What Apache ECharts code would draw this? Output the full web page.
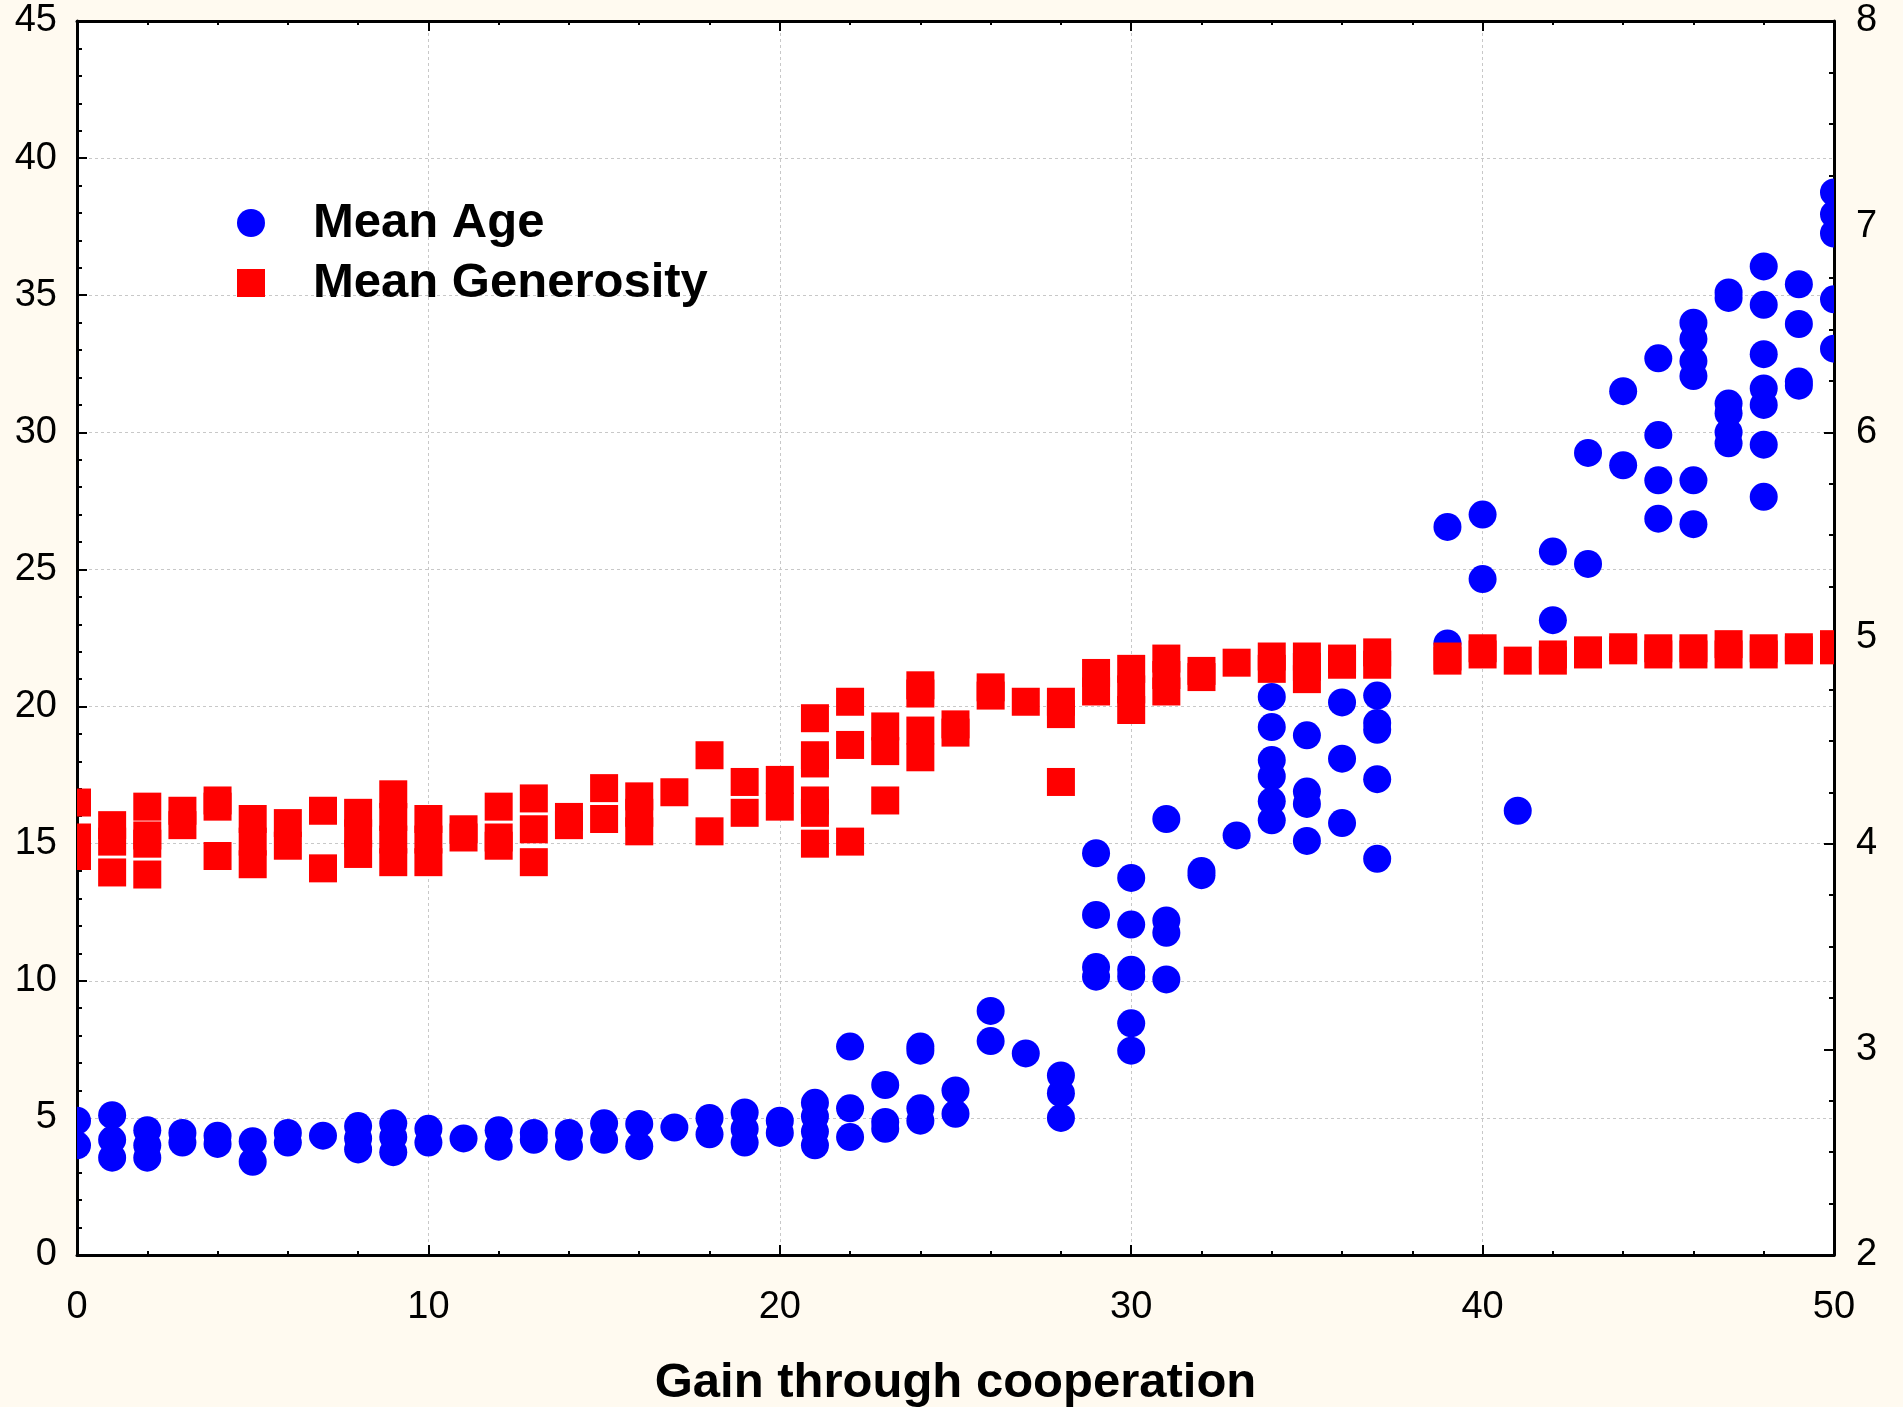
<!DOCTYPE html>
<html>
<head>
<meta charset="utf-8">
<title>Gain through cooperation</title>
<script src="https://cdn.jsdelivr.net/npm/echarts@6.0.0/dist/echarts.min.js"></script>
<style>
    html, body { margin: 0; padding: 0; background: #fffaf0; }
    #chart { width: 1903px; height: 1407px; }
</style>
</head>
<body>
<div id="chart"></div>
<script>
// values grouped by gain through cooperation (index = gain 0..50)
const gainTicks = [0, 10, 20, 30, 40, 50];

// Mean Age (left axis)
const meanAge = [
    [4.9, 4.0], [5.1, 4.2, 3.55], [4.55, 4.0, 3.55], [4.45, 4.1], [4.35, 4.05],
    [4.15, 3.4], [4.45, 4.1], [4.35], [4.7, 4.25, 3.85], [4.8, 4.3, 3.75],
    [4.6, 4.1], [4.25], [4.55, 3.95], [4.45, 4.2], [4.45, 3.95],
    [4.8, 4.2], [4.78, 3.97], [4.65], [5.0, 4.4], [5.2, 4.6, 4.1],
    [4.9, 4.45], [5.55, 5.05, 4.5, 4.0], [7.6, 5.35, 4.3], [6.2, 4.85, 4.6], [7.6, 7.45, 5.35, 4.9],
    [6.0, 5.15], [8.9, 7.8], [7.35], [6.55, 5.9, 5.0], [14.65, 12.4, 10.5, 10.15],
    [13.75, 12.05, 10.4, 10.15, 8.45, 7.45], [15.9, 12.2, 11.75, 10.05], [14.0, 13.85], [15.3],
    [20.35, 19.25, 18.05, 17.45, 16.55, 15.85],
    [18.95, 16.9, 16.45, 15.1], [20.15, 18.1, 15.75], [20.4, 19.4, 19.15, 17.35, 14.45], [], [26.55, 22.3],
    [27.0, 24.65], [16.2], [25.65, 23.15], [29.25, 25.2], [31.5, 28.8],
    [32.7, 29.9, 28.25, 26.85], [34.0, 33.4, 32.6, 32.05, 28.25, 26.65],
    [35.1, 34.9, 31.05, 30.7, 30.0, 29.6], [36.05, 34.65, 32.85, 31.6, 31.0, 29.55, 27.65],
    [35.4, 33.95, 31.85, 31.7],
    [38.75, 37.95, 37.25, 34.85, 33.05]
];

// Mean Generosity (right axis)
const meanGenerosity = [
    [4.2, 4.03, 3.94], [4.09, 4.01, 3.86], [4.18, 4.04, 4.0, 3.85], [4.16, 4.09], [4.21, 4.18, 3.94],
    [4.12, 4.01, 3.9], [4.1, 3.99], [4.16, 3.88], [4.15, 4.05, 3.95], [4.24, 4.13, 4.02, 3.91],
    [4.12, 4.02, 3.91], [4.07, 4.03], [4.18, 4.03, 3.99], [4.22, 4.07, 3.91], [4.13, 4.09],
    [4.27, 4.12], [4.23, 4.15, 4.06], [4.25], [4.43, 4.06], [4.3, 4.15],
    [4.31, 4.18], [4.61, 4.43, 4.39, 4.21, 4.15, 4.0], [4.69, 4.48, 4.01], [4.57, 4.45, 4.21], [4.77, 4.73, 4.55, 4.42],
    [4.58, 4.54], [4.76, 4.72], [4.69], [4.69, 4.63, 4.3], [4.83, 4.74],
    [4.85, 4.75, 4.65], [4.9, 4.82, 4.74], [4.84, 4.81], [4.88], [4.91, 4.85],
    [4.91, 4.86, 4.8], [4.9, 4.87], [4.93, 4.87], [], [4.91, 4.89],
    [4.95, 4.92], [4.89], [4.92, 4.89], [4.94, 4.92], [4.955, 4.94],
    [4.95, 4.92], [4.95, 4.92], [4.97, 4.92], [4.95, 4.92], [4.955, 4.94],
    [4.97, 4.94]
];

const leftTicks = [0, 5, 10, 15, 20, 25, 30, 35, 40, 45];
const rightTicks = [2, 3, 4, 5, 6, 7, 8];

const toPoints = values => values.flatMap((ys, gain) => ys.map(y => [gain, y]));

const FONT = "'Liberation Sans', Arial, sans-serif";
const MARK = 28;

const tickStyle = { color: "#000", width: 2 };

const axisBase = {
    axisLine: { show: true, onZero: false, lineStyle: { color: "#000", width: 3 } },
    axisTick: { show: true, inside: true, length: 10, lineStyle: tickStyle },
    axisLabel: { color: "#000", fontSize: 38, fontFamily: FONT },
};

// custom series so the marks get clipped at the plot frame like the original
const renderCircle = (params, api) => {
    const p = api.coord([api.value(0), api.value(1)]);
    return {
        type: "circle",
        shape: { cx: p[0], cy: p[1], r: MARK / 2 },
        style: { fill: "#0000ff" }
    };
};

const renderSquare = (params, api) => {
    const p = api.coord([api.value(0), api.value(1)]);
    return {
        type: "rect",
        shape: { x: p[0] - MARK / 2, y: p[1] - MARK / 2, width: MARK, height: MARK },
        style: { fill: "#ff0000" }
    };
};

const chart = echarts.init(document.getElementById("chart"));

const option = {
    backgroundColor: "#fffaf0",
    animation: false,
    grid: {
        left: 77,
        top: 21,
        width: 1757,
        height: 1234,
        outerBoundsMode: "none",
        containLabel: false,
        show: true,
        backgroundColor: "#ffffff",
        borderWidth: 0
    },
    legend: {
        left: 232,
        top: 193,
        orient: "vertical",
        itemWidth: MARK,
        itemHeight: MARK,
        itemGap: 10,
        selectedMode: false,
        textStyle: {
            color: "#000",
            fontSize: 49,
            fontWeight: "bold",
            fontFamily: FONT,
            lineHeight: 50,
            padding: [0, 0, 0, 43]
        },
        data: [
            { name: "Mean Age", icon: "circle" },
            { name: "Mean Generosity", icon: "rect" }
        ]
    },
    xAxis: [
        {
            ...axisBase,
            type: "value",
            position: "bottom",
            min: gainTicks[0],
            max: gainTicks[gainTicks.length - 1],
            interval: 10,
            minorTick: { show: true, splitNumber: 5, length: 4, lineStyle: tickStyle },
            splitLine: { show: true, lineStyle: { color: "#c8c8c8", width: 1, type: [3, 3] } },
            axisLabel: { ...axisBase.axisLabel, margin: 34 },
            name: "Gain through cooperation",
            nameLocation: "middle",
            nameGap: 104,
            nameTextStyle: { color: "#000", fontSize: 49, fontWeight: "bold", fontFamily: FONT }
        },
        {
            ...axisBase,
            type: "value",
            position: "top",
            min: gainTicks[0],
            max: gainTicks[gainTicks.length - 1],
            interval: 10,
            minorTick: { show: true, splitNumber: 5, length: 4, lineStyle: tickStyle },
            splitLine: { show: false },
            axisLabel: { show: false }
        }
    ],
    yAxis: [
        {
            ...axisBase,
            type: "value",
            position: "left",
            min: leftTicks[0],
            max: leftTicks[leftTicks.length - 1],
            interval: 5,
            minorTick: { show: true, splitNumber: 5, length: 5, lineStyle: tickStyle },
            splitLine: { show: true, lineStyle: { color: "#c8c8c8", width: 1, type: [3, 3] } },
            axisLabel: { ...axisBase.axisLabel, margin: 20, padding: [10, 0, 0, 0] }
        },
        {
            ...axisBase,
            type: "value",
            position: "right",
            min: rightTicks[0],
            max: rightTicks[rightTicks.length - 1],
            interval: 1,
            minorTick: { show: true, splitNumber: 4, length: 5, lineStyle: tickStyle },
            splitLine: { show: false },
            axisLabel: { ...axisBase.axisLabel, margin: 22, padding: [10, 0, 0, 0] }
        }
    ],
    series: [
        {
            name: "Mean Age",
            type: "custom",
            xAxisIndex: 0,
            yAxisIndex: 0,
            clip: true,
            itemStyle: { color: "#0000ff" },
            encode: { x: 0, y: 1 },
            renderItem: renderCircle,
            data: toPoints(meanAge)
        },
        {
            name: "Mean Generosity",
            type: "custom",
            xAxisIndex: 0,
            yAxisIndex: 1,
            clip: true,
            itemStyle: { color: "#ff0000" },
            encode: { x: 0, y: 1 },
            renderItem: renderSquare,
            data: toPoints(meanGenerosity)
        }
    ]
};

chart.setOption(option);
</script>
</body>
</html>
